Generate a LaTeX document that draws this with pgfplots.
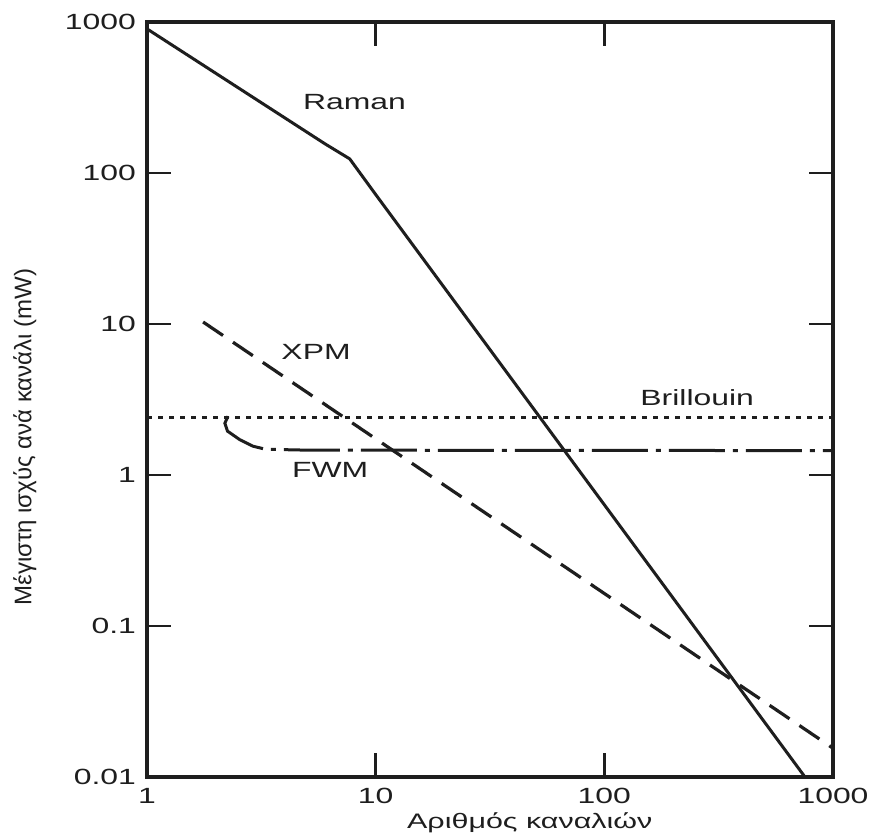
\documentclass[border=0pt]{standalone}
\usepackage{fontspec}
\setmainfont{Liberation Sans}[FakeStretch=1.45]
\newfontfamily\yfont{Liberation Sans}
\usepackage{pgfplots}
\pgfplotsset{compat=1.18}

\definecolor{ink}{RGB}{30,30,30}

\begin{document}
\begin{tikzpicture}
\begin{loglogaxis}[
    scale only axis,
    width=343pt,
    height=377.5pt,
    xmin=1, xmax=1000,
    ymin=0.01, ymax=1000,
    xtick={1,10,100,1000},
    xticklabels={1,10,100,1000},
    ytick={0.01,0.1,1,10,100,1000},
    yticklabels={0.01,0.1,1,10,100,1000},
    minor tick length=0pt,
    minor tick style={draw=none},
    major tick length=12pt,
    tick align=inside,
    tick style={ink, line width=1.2pt},
    axis line style={ink, line width=2pt},
    tick label style={font=\fontsize{11}{13}\selectfont, text=ink},
    yticklabel style={xshift=-2pt},
    xticklabel style={yshift=-2pt},
    xlabel={Αριθμός καναλιών},
    xlabel style={at={(rel axis cs:0.558,-0.06)}, anchor=center,
                  font=\fontsize{10.5}{12}\selectfont, text=ink},
    ylabel={\yfont Μέγιστη ισχύς ανά κανάλι (mW)},
    ylabel style={at={(rel axis cs:-0.178,0.45)}, anchor=center,
                  font=\fontsize{12}{14}\selectfont, text=ink},
    clip=false,
]
% Raman
\addplot[ink, line width=1.5pt, line join=round] coordinates {
    (1,900) (6,156) (7.7,124) (10,72) (754,0.01)
};
% XPM
\addplot[ink, line width=1.6pt, dash pattern=on 12pt off 6pt] coordinates {
    (1.76,10.3) (1000,0.0155)
};
% Brillouin
\addplot[ink, line width=1.6pt, dash pattern=on 2.5pt off 3pt] coordinates {
    (1,2.4) (1000,2.4)
};
% FWM
\addplot[ink, line width=1.5pt, dash pattern=on 28pt off 4pt on 2.5pt off 4pt] coordinates {
    (2.26,2.45) (2.19,2.2) (2.25,1.95) (2.55,1.71) (2.91,1.55) (3.3,1.48) (5,1.46) (1000,1.45)
};

\node[font=\fontsize{11}{13}\selectfont, text=ink] at (rel axis cs:0.3025,0.894) {Raman};
\node[font=\fontsize{11}{13}\selectfont, text=ink] at (rel axis cs:0.2464,0.563) {XPM};
\node[font=\fontsize{11}{13}\selectfont, text=ink] at (rel axis cs:0.802,0.502) {Brillouin};
\node[font=\fontsize{11}{13}\selectfont, text=ink] at (rel axis cs:0.267,0.407) {FWM};

\coordinate (bbl) at (rel axis cs:-0.2143,-0.0821);
\coordinate (btr) at (rel axis cs:1.0685,1.0291);
\end{loglogaxis}
\path (bbl) rectangle (btr);
\end{tikzpicture}
\end{document}
